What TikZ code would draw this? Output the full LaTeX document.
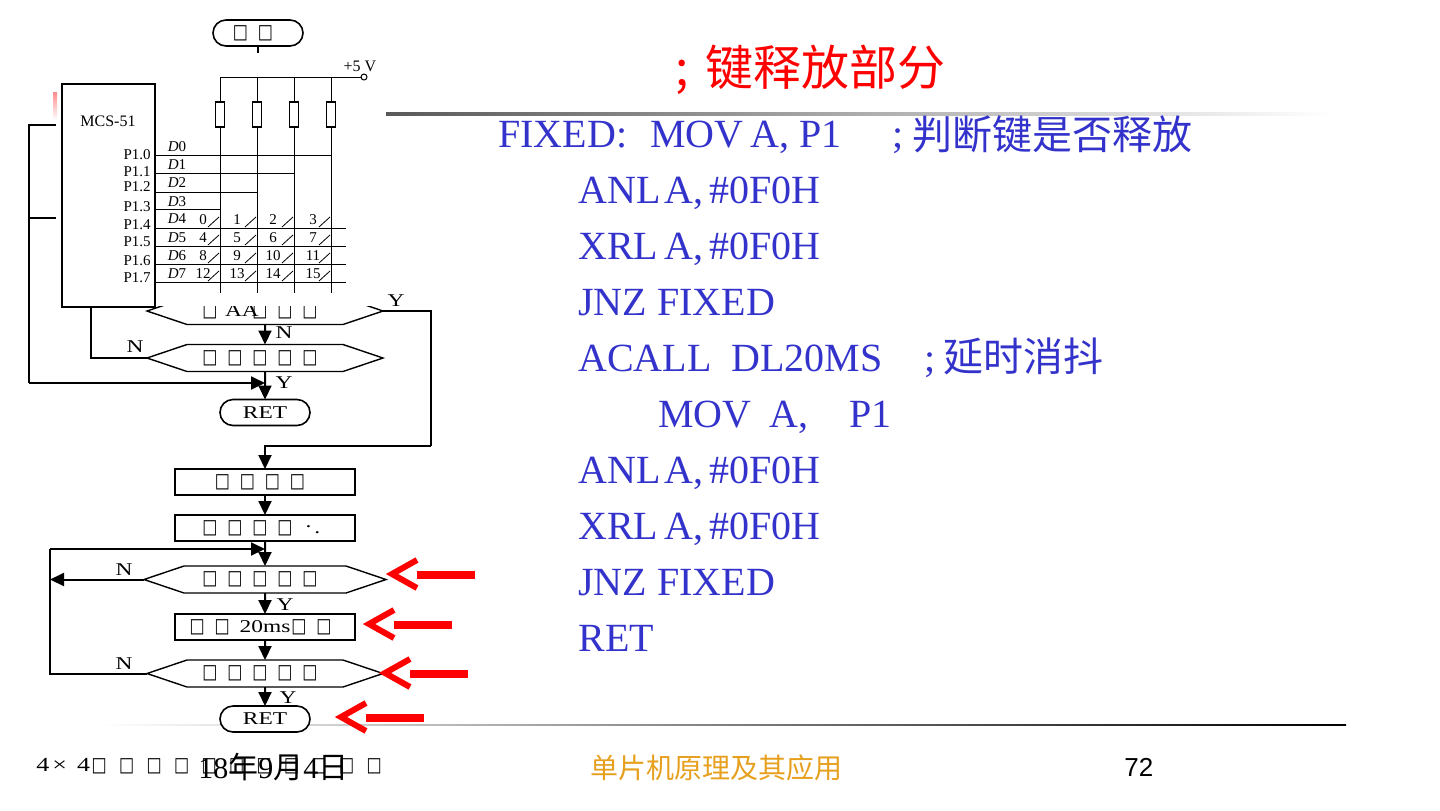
\documentclass[tikz,border=0pt]{standalone}
\usepackage{fontspec}
\setmainfont{Liberation Serif}
\newfontfamily\cjk{Noto Sans CJK SC}
\newfontfamily\tofufont[FakeStretch=0.8]{DejaVu Sans}
\newfontfamily\wideserif[FakeStretch=1.3]{Liberation Serif}
\usetikzlibrary{arrows.meta,positioning,calc,shapes.misc,shapes.symbols}
\definecolor{codeblue}{RGB}{51,51,204}
\definecolor{footgold}{RGB}{230,160,30}
\newcommand{\tf}{\makebox[12.5pt]{\tofufont\fontsize{10}{10}\selectfont □}}
\newcommand{\ft}{\makebox[13.75pt]{\tofufont\fontsize{10}{10}\selectfont □}}
\begin{document}
\begin{tikzpicture}[x=0.5pt,y=-0.5pt,node distance=10pt,
  hexa/.style={signal,signal to=west and east,signal pointer angle=37.3,
               draw=black,line width=0.7pt,fill=white,minimum width=118pt,minimum height=13.5pt,inner sep=0pt,outer sep=0pt,
               font=\wideserif\fontsize{9}{9}\selectfont},
  wide/.style={hexa,minimum width=121pt},
  proc/.style={rectangle,draw=black,line width=1pt,fill=white,minimum width=90pt,minimum height=13pt,inner sep=0pt,outer sep=0pt,font=\wideserif\fontsize{9}{9}\selectfont},
  term/.style={rounded rectangle,draw=black,line width=0.8pt,fill=white,minimum width=45pt,minimum height=13pt,inner sep=0pt,outer sep=0pt,font=\wideserif\fontsize{9}{9}\selectfont},
  flow/.style={draw,line width=1pt,-{Triangle[length=7pt,width=6.5pt]}},
  plain/.style={draw,line width=1pt},
  tag/.style={inner sep=0pt,font=\wideserif\fontsize{9}{9}\selectfont},
  wire/.style={draw,line width=0.5pt},
  pin/.style={inner sep=0pt,font=\fontsize{7.5}{7.5}\selectfont},
  code/.style={anchor=base west,inner sep=0pt,text=codeblue,font=\fontsize{20}{20}\selectfont},
  redbar/.style={draw=red,line width=3pt},
  redtail/.style={draw=red,line width=4pt}]
\useasboundingbox (0,0) rectangle (1440,810);
% slide rules
\shade[left color=black!65,right color=white] (386,112) rectangle (1330,115);
\shade[left color=white,right color=black] (100,724) rectangle (1346,725.5);
% flow chart, upper part
\node[hexa] (hexA) at (265,311) {\raisebox{-2pt}{\tf\makebox[12.5pt]{\hspace{7pt}\fontsize{9}{9}\selectfont AA}\tf\tf\tf\hspace{5pt}}};
\node[hexa,below=of hexA] (hexB) {\mbox{\tf\tf\tf\tf\tf\hspace{5pt}}};
\node[term,below=14pt of hexB] (retA) {RET};
\coordinate (farL) at (29,125);
\coordinate (farM) at (29,218);
\coordinate (chipB) at (91,300);
\coordinate (bendR) at (431,446);
\path[plain] (58,125) -- (farL) -- (29,383) coordinate (turnA);
\path[plain] (58,218) -- (farM);
\path[plain] (hexB.west) -| (chipB);
\path[flow] (hexA) -- (hexB);
\path[flow] (hexB) -- (retA);
\path[flow] (turnA) -- (265,383);
% keyboard picture lies on top of the chart
\fill[white] (56,53) rectangle (385,306);
\shade[top color=red!45,bottom color=white] (53,92) rectangle (57,120);
\node[term] (start) at (258,33) {\mbox{\tf\tf\hspace{5pt}}};
\draw[line width=0.8pt] (start.south) -- (258,53);
\node[draw,line width=0.7pt,fill=white,minimum width=46.5pt,minimum height=111.5pt,inner sep=0pt] (chip) at (108.5,195.5) {};
\node[pin,font=\fontsize{8}{8}\selectfont] (mcs) at (108,121) {MCS-51};
\node[pin,font=\fontsize{8}{8}\selectfont] (vcc) at (360,66) {+5 V};
\node[draw,circle,line width=0.5pt,minimum size=3pt,inner sep=0pt] (pwr) at (364,77) {};
\path[wire] (220,77) -- (pwr);
\foreach \cx/\n in {220/a,257/b,294/c,331/d}{
  \path[wire] (\cx,77) -- (\cx,293);
  \node[draw,line width=0.7pt,fill=white,minimum width=4.5pt,minimum height=12.5pt,inner sep=0pt] (res\n) at (\cx,114.5) {};
}
\foreach \i/\py/\ly/\dy/\ex in {0/155/155/147/331,1/172/173/165/294,2/187/192/183/257,3/207/209/202/220,4/225/228/219/346,5/242/246/238/346,6/261/264/256/346,7/278/282/274/346}{
  \node[pin,anchor=east] (p\i) at (151,\py) {P1.\i};
  \node[pin] (d\i) at (177,\dy) {\textit{D}\i};
  \path[wire] (155,\ly) -- (\ex,\ly);
}
\foreach \ry/\lst in {220/{0/203,1/237,2/273,3/313},238/{4/203,5/237,6/273,7/313},256/{8/203,9/237,10/273,11/313},274/{12/203,13/237,14/273,15/313}}{
  \foreach \k/\nx [count=\c from 0] in \lst {
    \node[pin] at (\nx,\ry) {\k};
    \draw[line width=0.4pt] ({208+\c*37},\ry+7) -- ({219+\c*37},\ry-3);
  }
}
% flow chart, lower part
\node[tag] (yA) at (396,301) {Y};
\node[tag] (nA) at (284,333) {N};
\node[tag] (nB) at (135,347) {N};
\node[tag] (yB) at (284,383) {Y};
\path[plain] (hexA.east) -- (hexA.east -| bendR) -- (bendR);
\node[proc] (boxA) at (265,482) {\mbox{\tf\tf\tf\tf\hspace{5pt}}};
\node[proc,below=of boxA] (boxB) {\mbox{\tf\tf\tf\tf\makebox[17.5pt][l]{\hspace{4pt}\raisebox{3pt}{.}\hspace{1.5pt}.}}};
\node[wide,below=12.5pt of boxB] (hexC) {\mbox{\tf\tf\tf\tf\tf\hspace{5pt}}};
\node[proc,below=10.5pt of hexC] (boxC) {\mbox{\tf\tf\hspace{2.5pt}20ms\hspace{-2pt}\tf\tf\hspace{4.5pt}}};
\node[hexa,below=of boxC] (hexD) {\mbox{\tf\tf\tf\tf\tf\hspace{5pt}}};
\node[term,below=9.5pt of hexD] (retB) {RET};
\coordinate (loopT) at (50,549);
\coordinate (loopB) at (hexC.west -| loopT);
\path[flow] (bendR) -| (boxA.north);
\path[flow] (boxA) -- (boxB);
\path[flow] (boxB) -- (hexC);
\path[flow] (hexC) -- (boxC);
\path[flow] (boxC) -- (hexD);
\path[flow] (hexD) -- (retB);
\path[flow] (hexC.west) -- (loopB);
\path[plain] (hexD.west) -| (loopT);
\path[flow] (loopT) -- (265,549);
\node[tag] (nC) at (124,570) {N};
\node[tag] (yC) at (285,605) {Y};
\node[tag] (nD) at (124,664) {N};
\node[tag] (yD) at (288,698) {Y};
% red pointers
\foreach \tx/\ty in {386/574,363/624,379/673,335/717}{
  \draw[redbar] (\tx+31,\ty-14) -- (\tx+6,\ty) -- (\tx+31,\ty+14);
  \draw[redtail] (\tx+31,\ty+1) -- (\tx+89,\ty+1);
}
% code text
\node[anchor=base west,inner sep=0pt,text=red,font=\fontsize{24}{24}\selectfont\cjk] (title) at (675,85) {\makebox[15pt][l]{;}键释放部分};
\node[code] (ln0) at (498,147) {\makebox[76pt][l]{FIXED:}\makebox[121pt][l]{\makebox[50pt][l]{MOV}A, P1}\makebox[10pt][l]{;}\raisebox{-1pt}{\cjk 判断键是否释放}};
\foreach \i/\cx/\cy/\txt in {1/578/203/{\makebox[65.5pt][l]{\makebox[43pt][l]{ANL}A,}\#0F0H},2/578/259/{\makebox[65.5pt][l]{\makebox[43pt][l]{XRL}A,}\#0F0H},3/578/315/{JNZ FIXED},4/578/371/{\makebox[76.5pt][l]{ACALL}\makebox[96.5pt][l]{DL20MS}\makebox[9.5pt][l]{;}{\cjk 延时消抖}},5/658/427/{\makebox[55.5pt][l]{MOV}\makebox[40pt][l]{A,}P1},6/578/483/{\makebox[65.5pt][l]{\makebox[43pt][l]{ANL}A,}\#0F0H},7/578/539/{\makebox[65.5pt][l]{\makebox[43pt][l]{XRL}A,}\#0F0H},8/578/595/{JNZ FIXED},9/578/651/{RET}}{
  \node[code] (ln\i) at (\cx,\cy) {\txt};
}
% footer
\node[inner sep=0pt,anchor=base west,font=\wideserif\fontsize{10}{10}\selectfont] (fnote) at (36,771) {\makebox[24.5pt][l]{4\hspace{1.5pt}×\hspace{5pt}4}\ft\ft\ft\ft\ft\ft\ft\ft\ft\ft\ft};
\node[inner sep=0pt,anchor=base west,font=\fontsize{15}{15}\selectfont] (fdate) at (198,778) {18{\cjk 年}9{\cjk 月}4{\cjk 日}};
\node[inner sep=0pt,anchor=base west,text=footgold,font=\fontsize{14}{14}\selectfont\cjk] (fname) at (590,778) {单片机原理及其应用};
\node[inner sep=0pt,anchor=base west,font=\fontsize{13}{13}\selectfont\fontspec{Liberation Sans}] (fpage) at (1124,776) {72};
\end{tikzpicture}
\end{document}
